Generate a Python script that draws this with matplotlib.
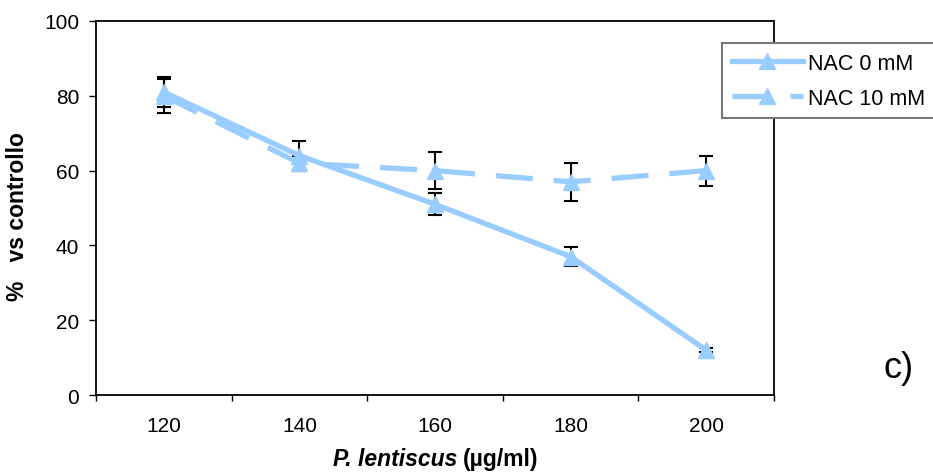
import numpy as np
import matplotlib.pyplot as plt

plt.rcParams['font.family'] = ['Liberation Sans', 'DejaVu Sans']

# data
concentrations = ['120', '140', '160', '180', '200']
nac0_mean = [81, 64, 51, 37, 12]
nac0_err = [4, 4, 3, 2.5, 0.5]
nac10_mean = [80, 62, 60, 57, 60]
nac10_err = [4.5, 2, 5, 5, 4]
y_ticks = [0, 20, 40, 60, 80, 100]

W, H = 933, 477
fig = plt.figure(figsize=(W / 100, H / 100), dpi=100)
ax = fig.add_axes([96 / W, 1 - 396 / H, (774 - 96) / W, (396 - 22) / H])

blue = '#99ccff'
x = np.arange(1, len(concentrations) + 1)

ax.plot(x, nac0_mean, color=blue, lw=3.8, marker='^', ms=11,
        label='NAC 0 mM', zorder=3)
ax.plot(x, nac10_mean, color=blue, lw=3.8, ls=(0, (7, 4)), marker='^', ms=11,
        label='NAC 10 mM', zorder=3)
# error bars sit behind the markers, as in the original
ax.errorbar(x, nac0_mean, yerr=nac0_err, fmt='none', ecolor='black',
            elinewidth=1.5, capsize=5, capthick=1.5, zorder=2)
ax.errorbar(x, nac10_mean, yerr=nac10_err, fmt='none', ecolor='black',
            elinewidth=1.5, capsize=5, capthick=1.5, zorder=2)

ax.set_xlim(0.5, len(concentrations) + 0.5)
ax.set_ylim(0, 100)
ax.set_yticks(y_ticks)
ax.tick_params(axis='y', labelsize=15, length=5, width=1, pad=7)

# ticks on category boundaries, labels in the middle
ax.set_xticks(np.arange(0.5, len(concentrations) + 1, 1))
ax.set_xticklabels([])
ax.set_xticks(x, minor=True)
ax.set_xticklabels(concentrations, minor=True)
ax.tick_params(axis='x', which='major', length=4.5, width=1)
ax.tick_params(axis='x', which='minor', length=0, labelsize=15, pad=15)

for s in ax.spines.values():
    s.set_linewidth(1.3)

fig.text(18 / W, 1 - 217 / H, '%   vs controllo', rotation=90, fontsize=16.5,
         fontweight='bold', ha='center', va='center')
fig.text(457 / W, 1 - 460 / H, 'P. lentiscus', fontsize=16.5, fontweight='bold',
         style='italic', ha='right', va='center')
fig.text(463 / W, 1 - 460 / H, '(µg/ml)', fontsize=16.5, fontweight='bold',
         ha='left', va='center')

fig.text(899 / W, 1 - 369 / H, 'c)', fontsize=26, ha='center', va='center')

leg = fig.legend(loc='upper left', bbox_to_anchor=(722 / W, 1 - 44 / H),
                 fontsize=15.5, handlelength=3.3, handletextpad=0.25,
                 fancybox=False, framealpha=1, edgecolor='#777777',
                 borderpad=0.45, labelspacing=0.65, borderaxespad=0)
leg.get_frame().set_linewidth(1.5)

fig.savefig('out.png', dpi=100)
